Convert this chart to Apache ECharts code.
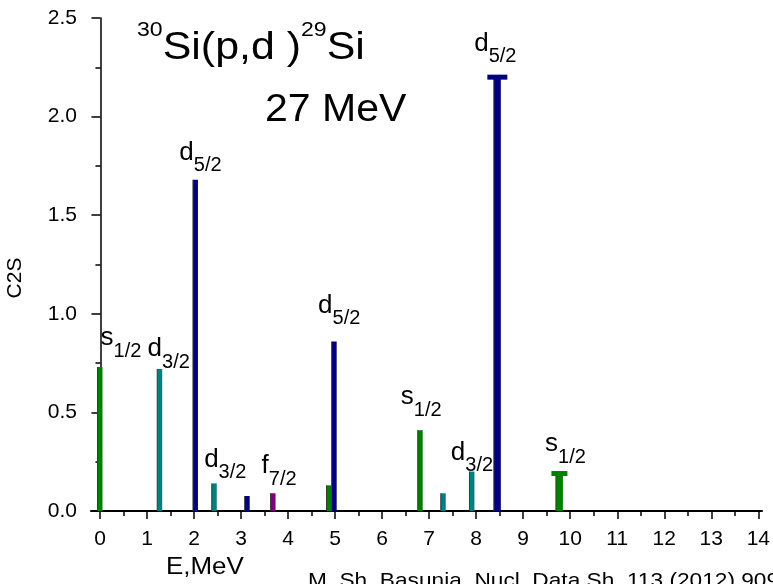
<!DOCTYPE html>
<html><head><meta charset="utf-8">
<script src="https://cdn.jsdelivr.net/npm/echarts@6/dist/echarts.min.js"></script>
<style>html,body{margin:0;padding:0;background:#fff}#c{width:773px;height:584px}</style>
</head><body><div id="c"></div>
<script>
// ---- data ----
const energies = [0, 1.27, 2.03, 2.43, 3.13, 3.68, 4.87, 4.98, 6.81, 7.30, 7.91, 8.45, 9.77];
const c2s      = [0.73, 0.72, 1.68, 0.14, 0.076, 0.09, 0.13, 0.86, 0.41, 0.09, 0.20, 2.20, 0.19];
const orbitals = ['s1/2','d3/2','d5/2','d3/2','d5/2','f7/2','s1/2','d5/2','s1/2','d3/2','d3/2','d5/2','s1/2'];
const labeled  = [true, true, true, true, false, true, false, true, true, false, true, true, true];
const capped   = [false,false,false,false,false,false,false,false,false,false,false,true, true];
const yTickValues = [0, 0.5, 1.0, 1.5, 2.0, 2.5];
const xTickLabels = ['0','1','2','3','4','5','6','7','8','9','10','11','12','13','14'];
const titleReaction = {a1: '30', mid: 'Si(p,d )', a2: '29', end: 'Si'};
const titleEnergy = '27 MeV';
const xName = 'E,MeV';
const yName = 'C2S';
const reference = 'M. Sh. Basunia, Nucl. Data Sh. 113 (2012) 909';

// ---- styles ----
const FONT = "'Liberation Sans', Arial, sans-serif";
const orbitalColor = {'s1/2': '#008000', 'd3/2': '#008080', 'd5/2': '#000080', 'f7/2': '#800080'};
const capWidth = {'s1/2': 16, 'd5/2': 20};
const labelDx = [21, 9, 5, 11, 0, 6, 0, 5, 1, -15, 0, -2, 6];
const labelGap = [10, 1, 8, 5, 0, 8, 0, 17, 14, 9, 0, 12, 8];

const chart = echarts.init(document.getElementById('c'), null, {renderer: 'canvas'});

const seriesData = energies.map((e, i) => [e, c2s[i], i]);

function renderItem(params, api) {
  const i = api.value(2);
  const top = api.coord([api.value(0), api.value(1)]);
  const base = api.coord([api.value(0), 0]);
  const orb = orbitals[i];
  const col = orbitalColor[orb];
  const w = capped[i] ? 7 : 5;
  const children = [
    {type: 'rect', shape: {x: top[0] - w / 2, y: top[1], width: w, height: base[1] - top[1]}, style: {fill: col}},
    {type: 'rect', shape: {x: top[0] - w / 2 - 0.5, y: top[1], width: 1, height: base[1] - top[1]}, style: {fill: '#3a3a3a'}}
  ];
  let labelY = top[1];
  if (capped[i]) {
    const cw = capWidth[orb];
    children.push({type: 'rect', shape: {x: top[0] - cw / 2, y: top[1] - 2.5, width: cw, height: 5}, style: {fill: col}});
    labelY = top[1] - 2.5;
  }
  if (labeled[i]) {
    const letter = orb.charAt(0), sub = orb.slice(1);
    children.push({
      type: 'text',
      x: top[0] + labelDx[i],
      y: labelY - labelGap[i] + 4,
      style: {
        text: '{m|' + letter + '}{s|' + sub + '}',
        align: 'center', verticalAlign: 'bottom',
        rich: {
          m: {fontSize: 26, fontFamily: FONT, fill: '#000', verticalAlign: 'bottom', padding: [0, 0, 10, 0]},
          s: {fontSize: 20, fontFamily: FONT, fill: '#000', verticalAlign: 'bottom'}
        }
      }
    });
  }
  return {type: 'group', children: children};
}

const option = {
  backgroundColor: '#fff',
  animation: false,
  grid: [
    {left: 91, right: 11, top: 18, bottom: 73},
    {left: 100, right: 11, top: 18, bottom: 73}
  ],
  xAxis: [
    {gridIndex: 0, type: 'value', min: -0.2, max: 14,
     axisLine: {show: true, lineStyle: {color: '#000', width: 2}},
     axisTick: {show: false}, axisLabel: {show: false}, splitLine: {show: false}},
    {gridIndex: 1, type: 'value', min: 0, max: 14, interval: 1,
     axisLine: {show: false},
     axisTick: {show: true, length: 8, lineStyle: {color: '#000', width: 1.5}},
     minorTick: {show: true, splitNumber: 2, length: 5, lineStyle: {color: '#000', width: 1.5}},
     axisLabel: {show: true, margin: 18, fontSize: 21, fontFamily: FONT, color: '#000',
       formatter: v => xTickLabels[Math.round(v)]},
     splitLine: {show: false}}
  ],
  yAxis: [
    {gridIndex: 0, type: 'value', min: 0, max: 2.5, interval: 0.5,
     axisLine: {show: true, lineStyle: {color: '#000', width: 1.5}},
     axisTick: {show: true, length: 9, lineStyle: {color: '#000', width: 1.5}},
     minorTick: {show: true, splitNumber: 2, length: 5, lineStyle: {color: '#000', width: 1.5}},
     axisLabel: {show: true, margin: 14, fontSize: 21, fontFamily: FONT, color: '#000',
       formatter: v => yTickValues.find(t => Math.abs(t - v) < 1e-6).toFixed(1)},
     splitLine: {show: false}},
    {gridIndex: 1, type: 'value', min: 0, max: 2.5, show: false}
  ],
  series: [{
    type: 'custom',
    coordinateSystem: 'cartesian2d',
    xAxisIndex: 1, yAxisIndex: 1,
    clip: false,
    renderItem: renderItem,
    data: seriesData
  }],
  graphic: [
    {type: 'text', x: 137, y: 20, scaleX: 1.1, style: {
      text: '{sup|' + titleReaction.a1 + '}{m|' + titleReaction.mid + '}{sup|' + titleReaction.a2 + '}{m|' + titleReaction.end + '}',
      rich: {
        sup: {fontSize: 21, fontFamily: FONT, fill: '#000', verticalAlign: 'bottom', padding: [0, 0, 27, 0]},
        m: {fontSize: 39, fontFamily: FONT, fill: '#000', verticalAlign: 'bottom'}
      }}},
    {type: 'text', x: 265, y: 92, scaleX: 1.08, style: {text: titleEnergy, fontSize: 38, fontFamily: FONT, fill: '#000'}},
    {type: 'text', x: 166, y: 555, scaleX: 1.08, style: {text: xName, fontSize: 24, fontFamily: FONT, fill: '#000'}},
    {type: 'text', x: 5, y: 278, rotation: Math.PI / 2, style: {text: yName, fontSize: 21, fontFamily: FONT, fill: '#000', align: 'center', verticalAlign: 'top'}},
    {type: 'text', x: 308, y: 571, scaleX: 1.08, style: {text: reference, fontSize: 21, fontFamily: FONT, fill: '#000'}}
  ]
};
chart.setOption(option);
</script>
</body></html>
